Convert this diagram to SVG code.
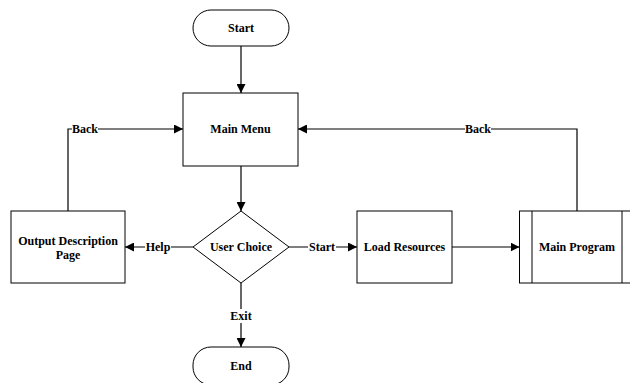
<svg xmlns="http://www.w3.org/2000/svg" width="630" height="383" viewBox="0 0 630 383">
<style>
.n{fill:#fff;stroke:#000;stroke-width:1}
.t{font-family:"Liberation Serif","Times New Roman",serif;font-weight:bold;font-size:12px;text-anchor:middle;dominant-baseline:central;fill:#000}
.e{fill:none;stroke:#000;stroke-width:1.2}
.lb{fill:#fff;stroke:none}
</style>
<defs>
<marker id="ah" viewBox="0 0 10 10" refX="10" refY="5" markerWidth="9" markerHeight="9" markerUnits="userSpaceOnUse" orient="auto">
<path d="M0,0 L10,5 L0,10 Z" fill="#000"/>
</marker>
</defs>
<rect width="630" height="383" fill="#fff"/>
<g id="connectors">
<path class="e" d="M241,46 V93" marker-end="url(#ah)"/>
<path class="e" d="M241,166 V211" marker-end="url(#ah)"/>
<path class="e" d="M193,247 H125" marker-end="url(#ah)"/>
<path class="e" d="M289,247 H357" marker-end="url(#ah)"/>
<path class="e" d="M452,247 H519.5" marker-end="url(#ah)"/>
<path class="e" d="M241,283 V347" marker-end="url(#ah)"/>
<path class="e" d="M68,211 V129 H183" marker-end="url(#ah)"/>
<path class="e" d="M577,211 V129 H298" marker-end="url(#ah)"/>
<rect class="lb" x="145" y="240" width="26" height="14"/>
<text class="t" x="158" y="247">Help</text>
<rect class="lb" x="308" y="240" width="28" height="14"/>
<text class="t" x="322" y="247">Start</text>
<rect class="lb" x="229" y="309" width="24" height="14"/>
<text class="t" x="241" y="316">Exit</text>
<rect class="lb" x="72" y="122" width="26" height="14"/>
<text class="t" x="85" y="129">Back</text>
<rect class="lb" x="465" y="122" width="26" height="14"/>
<text class="t" x="478" y="129">Back</text>
</g>
<g id="start">
<rect class="n" x="193" y="10" width="96" height="36" rx="18"/>
<text class="t" x="241" y="28">Start</text>
</g>
<g id="main-menu">
<rect class="n" x="183" y="93" width="115" height="73"/>
<text class="t" x="240.5" y="129">Main Menu</text>
</g>
<g id="user-choice">
<polygon class="n" points="241,211 289,247 241,283 193,247"/>
<text class="t" x="241" y="247">User Choice</text>
</g>
<g id="output-description">
<rect class="n" x="11" y="211" width="114" height="72"/>
<text class="t" x="68" y="241">Output Description</text>
<text class="t" x="68" y="255">Page</text>
</g>
<g id="load-resources">
<rect class="n" x="357" y="211" width="95" height="72"/>
<text class="t" x="404.5" y="247">Load Resources</text>
</g>
<g id="main-program">
<rect class="n" x="519.5" y="211" width="115" height="72"/>
<line class="n" x1="532" y1="211" x2="532" y2="283"/>
<line class="n" x1="622" y1="211" x2="622" y2="283"/>
<text class="t" x="577" y="247">Main Program</text>
</g>
<g id="end">
<rect class="n" x="193" y="347" width="96" height="38" rx="18"/>
<text class="t" x="241" y="366">End</text>
</g>
</svg>
